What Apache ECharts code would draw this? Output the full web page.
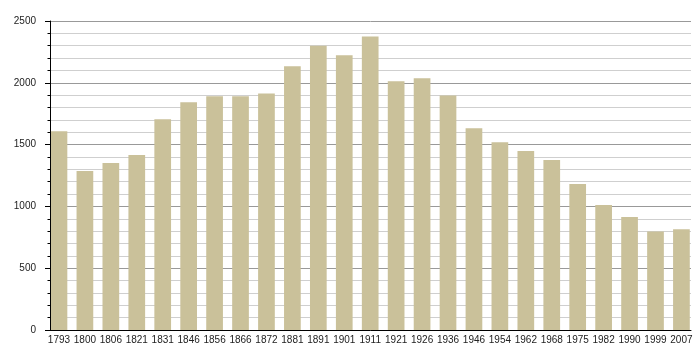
<!DOCTYPE html>
<html>
<head>
<meta charset="utf-8">
<script src="https://cdn.jsdelivr.net/npm/echarts@6/dist/echarts.min.js"></script>
<style>html,body{margin:0;padding:0;background:#fff}#c{width:700px;height:360px}</style>
</head>
<body>
<div id="c"></div>
<script>
const years = ['1793','1800','1806','1821','1831','1846','1856','1866','1872','1881','1891','1901','1911','1921','1926','1936','1946','1954','1962','1968','1975','1982','1990','1999','2007'];
const population = [1609,1286,1351,1415,1706,1843,1891,1891,1913,2133,2300,2222,2375,2012,2036,1897,1633,1520,1448,1375,1181,1012,915,797,816];
const yTicks = [0,500,1000,1500,2000,2500];

const chart = echarts.init(document.getElementById('c'), null, {renderer:'canvas'});
const font = {fontFamily:'Liberation Sans, Arial, sans-serif', fontSize:10, color:'#222'};
const yMin = yTicks[0], yMax = yTicks[yTicks.length-1];
chart.setOption({
  animation:false,
  grid:[
    {left:50, right:9, top:21, bottom:30, containLabel:false},
    {left:46, right:5.6, top:21, bottom:30, containLabel:false}
  ],
  xAxis:[
    {gridIndex:0, type:'value', min:0, max:1, z:5,
     axisLine:{show:true, lineStyle:{color:'#000', width:1}},
     axisTick:{show:false}, axisLabel:{show:false}, splitLine:{show:false}},
    {gridIndex:1, type:'category', data:years, boundaryGap:true,
     axisLine:{show:false}, axisTick:{show:false},
     axisLabel:Object.assign({margin:5, interval:0}, font)}
  ],
  yAxis:[
    {gridIndex:0, type:'value', min:yMin, max:yMax, interval:500, z:0,
     axisLine:{show:false}, axisTick:{show:false},
     axisLabel:Object.assign({margin:14, formatter:v => String(v)}, font),
     splitLine:{show:true, lineStyle:{color:'#999', width:1}},
     minorTick:{show:false, splitNumber:5},
     minorSplitLine:{show:true, lineStyle:{color:'#cfcfcf', width:1}}},
    {gridIndex:1, type:'value', min:yMin, max:yMax, show:false, splitLine:{show:false}},
    {gridIndex:0, type:'value', min:yMin, max:yMax, interval:500, z:5, position:'left', offset:0,
     axisLine:{show:true, lineStyle:{color:'#000', width:1}},
     axisTick:{show:true, length:5, lineStyle:{color:'#000'}},
     minorTick:{show:true, splitNumber:5, length:2.5, lineStyle:{color:'#000'}},
     axisLabel:{show:false}, splitLine:{show:false}, minorSplitLine:{show:false}}
  ],
  series:[{
    type:'bar', xAxisIndex:1, yAxisIndex:1, data:population,
    barWidth:16.7, itemStyle:{color:'#cac19a'}, z:2
  }]
});
</script>
</body>
</html>
